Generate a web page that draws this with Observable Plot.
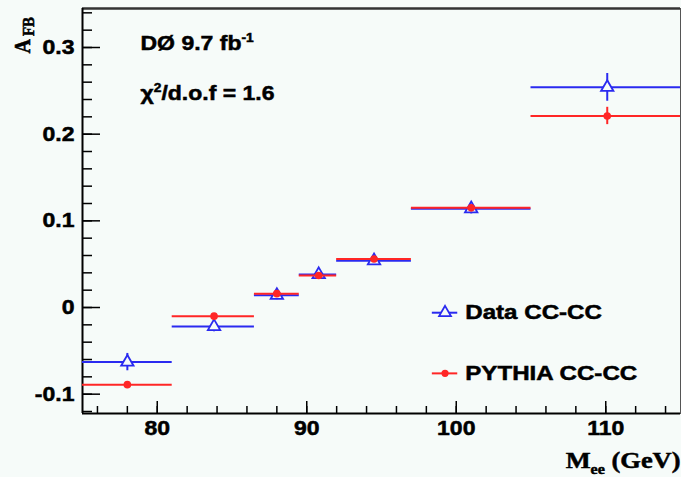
<!DOCTYPE html>
<html><head><meta charset="utf-8">
<script src="https://cdn.jsdelivr.net/npm/d3@7"></script>
<script src="https://cdn.jsdelivr.net/npm/@observablehq/plot@0.6"></script>
<style>
html,body{margin:0;padding:0;background:#f6fbf9;}
</style></head><body><div id="chart"></div>
<script>
// ---- data ----
const binLow    = [75, 81, 86.5, 89.5, 92, 97, 105];
const binHigh   = [81, 86.5, 89.5, 92, 97, 105, 115];
const binCenter = [78, 83.8, 88.0, 90.8, 94.5, 101.0, 110.1];
const dataA     = [-0.063, -0.022, 0.014, 0.038, 0.054, 0.114, 0.254];
const dataErr   = [0.010, 0.006, 0.005, 0.004, 0.004, 0.006, 0.016];
const pythiaA   = [-0.089, -0.010, 0.016, 0.037, 0.056, 0.115, 0.221];
const pythiaErr = [0.003, 0.003, 0.002, 0.002, 0.002, 0.003, 0.010];
const xMajor = [80, 90, 100, 110];
const xMinor = d3.range(76, 115, 2);
const yMajor = [-0.1, 0, 0.1, 0.2, 0.3];
const yMinor = d3.range(-12, 35, 2).map(v => v / 100);
const legendLabels = ["Data CC-CC", "PYTHIA CC-CC"];
const annot1 = [["DØ 9.7 fb", ""], ["-1", "sup"]];
const annot2 = [["χ", ""], ["2", "sup"], ["/d.o.f = 1.6", "base"]];
const yLabel = [["A", ""], ["FB", "sub"]];
const xLabel = [["M", ""], ["ee", "sub"], [" (GeV)", "base"]];
const joinParts = p => p.map(d => d[0]).join("");

// ---- layout ----
const W = 681, H = 477;
const mL = 82, mR = 1, mT = 8, mB = 64;
const innerW = W - mL - mR, innerH = H - mT - mB;
const xDom = [75, 115], yDom = [-0.1223, 0.345];
const BLUE = "#2a2af0", RED = "#ff2626", BG = "#f6fbf9";
const SANS = "Liberation Sans, Arial, sans-serif";
const SERIF = "Liberation Serif, Times New Roman, serif";

const dataRows = binCenter.map((x, i) => ({x, lo: binLow[i], hi: binHigh[i], a: dataA[i], e: dataErr[i]}));
const pyRows = binCenter.map((x, i) => ({x, lo: binLow[i], hi: binHigh[i], a: pythiaA[i], e: pythiaErr[i]}));
const legendRows = [
  {label: legendLabels[0], y: -0.006, c: BLUE},
  {label: legendLabels[1], y: -0.076, c: RED}
];

const fmtY = d => d === 0 ? "0" : d3.format(".1f")(d).replace("\u2212", "-");
const bold = {fontWeight: "bold", fill: "black"};

const plot = Plot.plot({
  width: W, height: H,
  marginLeft: mL, marginRight: mR, marginTop: mT, marginBottom: mB,
  style: {background: BG, fontFamily: SANS, color: "black"},
  x: {domain: xDom},
  y: {domain: yDom},
  marks: [
    Plot.frame({stroke: "#555", strokeWidth: 1}),
    Plot.ruleY([yDom[1]], {stroke: "#333", strokeWidth: 2.5}),
    // ticks (ROOT style, inward)
    Plot.tickX(xMinor, {x: d => d, insetTop: innerH - 7, stroke: "black", strokeWidth: 1.5}),
    Plot.tickX(xMajor, {x: d => d, insetTop: innerH - 12, stroke: "black", strokeWidth: 1.5}),
    Plot.tickY(yMinor, {y: d => d, insetRight: innerW - 10, stroke: "black", strokeWidth: 1.5}),
    Plot.tickY(yMajor, {y: d => d, insetRight: innerW - 18, stroke: "black", strokeWidth: 1.5}),
    Plot.ruleX([xDom[0]], {stroke: "black", strokeWidth: 2}),
    Plot.ruleY([yDom[0]], {stroke: "black", strokeWidth: 2}),
    Plot.axisX({ticks: xMajor, tickSize: 0, tickPadding: 7, label: null, fontSize: 20, ...bold, tickFormat: d => String(d)}),
    Plot.axisY({ticks: yMajor, tickSize: 0, tickPadding: 8, label: null, fontSize: 20, ...bold, tickFormat: fmtY}),
    // data (blue)
    Plot.ruleY(dataRows, {y: "a", x1: "lo", x2: "hi", stroke: BLUE, strokeWidth: 2}),
    Plot.ruleX(dataRows, {x: "x", y1: d => d.a - d.e, y2: d => d.a + d.e, stroke: BLUE, strokeWidth: 2}),
    Plot.dot(dataRows, {x: "x", y: "a", symbol: "triangle", r: 4.6, stroke: BLUE, strokeWidth: 1.8, fill: BG}),
    // pythia (red)
    Plot.ruleY(pyRows, {y: "a", x1: "lo", x2: "hi", stroke: RED, strokeWidth: 2}),
    Plot.ruleX(pyRows, {x: "x", y1: d => d.a - d.e, y2: d => d.a + d.e, stroke: RED, strokeWidth: 2}),
    Plot.dot(pyRows, {x: "x", y: "a", r: 3.8, fill: RED, stroke: "none"}),
    // legend
    Plot.ruleY(legendRows, {y: "y", x1: 98.4, x2: 100.1, stroke: "c", strokeWidth: 2}),
    Plot.dot(legendRows.slice(0, 1), {x: 99.25, y: "y", symbol: "triangle", r: 4.4, stroke: BLUE, strokeWidth: 1.8, fill: BG}),
    Plot.dot(legendRows.slice(1), {x: 99.25, y: "y", r: 3.6, fill: RED}),
    Plot.text(legendRows, {x: 100.6, y: "y", text: "label", textAnchor: "start", lineAnchor: "middle", fontSize: 21, ...bold}),
    // annotations
    Plot.text([annot1], {text: joinParts, frameAnchor: "top-left", dx: 58, dy: 35, textAnchor: "start", lineAnchor: "middle", fontSize: 20, ...bold}),
    Plot.text([annot2], {text: joinParts, frameAnchor: "top-left", dx: 58, dy: 85, textAnchor: "start", lineAnchor: "middle", fontSize: 20, ...bold}),
    // y label A_FB (rotated afterwards)
    Plot.text([yLabel], {text: joinParts, frameAnchor: "top-left", dx: -53, dy: 45, textAnchor: "start", lineAnchor: "bottom", fontSize: 20, fontFamily: SERIF, ...bold}),
    // x label M_ee (GeV)
    Plot.text([xLabel], {text: joinParts, frameAnchor: "bottom-right", dx: 0, dy: 54, textAnchor: "end", lineAnchor: "bottom", fontSize: 23, fontFamily: SERIF, ...bold})
  ]
});

// rich text (super/subscripts) as tspans
const NS = "http://www.w3.org/2000/svg";
const richMap = new Map([[joinParts(annot1), annot1], [joinParts(annot2), annot2], [joinParts(yLabel), yLabel], [joinParts(xLabel), xLabel]]);
plot.querySelectorAll("text").forEach(t => {
  const parts = richMap.get(t.textContent);
  if (!parts) return;
  const fs = parseFloat(t.getAttribute("font-size")) || parseFloat(t.parentNode.getAttribute("font-size")) || 20;
  const isY = parts === yLabel;
  while (t.firstChild) t.removeChild(t.firstChild);
  let shift = 0;
  parts.forEach(([s, kind]) => {
    const ts = document.createElementNS(NS, "tspan");
    ts.textContent = s;
    let target = 0;
    if (kind === "sup") { target = -0.42 * fs; ts.setAttribute("font-size", Math.round(fs * 0.6)); }
    if (kind === "sub") {
      target = isY ? 0.2 * fs : 0.28 * fs;
      ts.setAttribute("font-size", isY ? 15 : Math.round(fs * 0.62));
      if (isY) ts.setAttribute("dx", 3);
    }
    if (target - shift !== 0) ts.setAttribute("dy", target - shift);
    shift = target;
    t.appendChild(ts);
  });
  if (isY) t.setAttribute("data-rot", "1");
});

// the reference's lettering is horizontally stretched and heavy
plot.querySelectorAll("text").forEach(t => {
  const tr = t.getAttribute("transform") || "";
  const x = +t.getAttribute("x") || 0, y = +t.getAttribute("y") || 0;
  const s = t.getAttribute("data-rot") ? "rotate(-90) scale(1,1.15)" : "scale(1.15,1)";
  t.setAttribute("transform", `${tr} translate(${x},${y}) ${s} translate(${-x},${-y})`);
  t.setAttribute("stroke", "black");
  t.setAttribute("stroke-width", "0.5");
});
document.getElementById("chart").appendChild(plot);
</script>
</body></html>
